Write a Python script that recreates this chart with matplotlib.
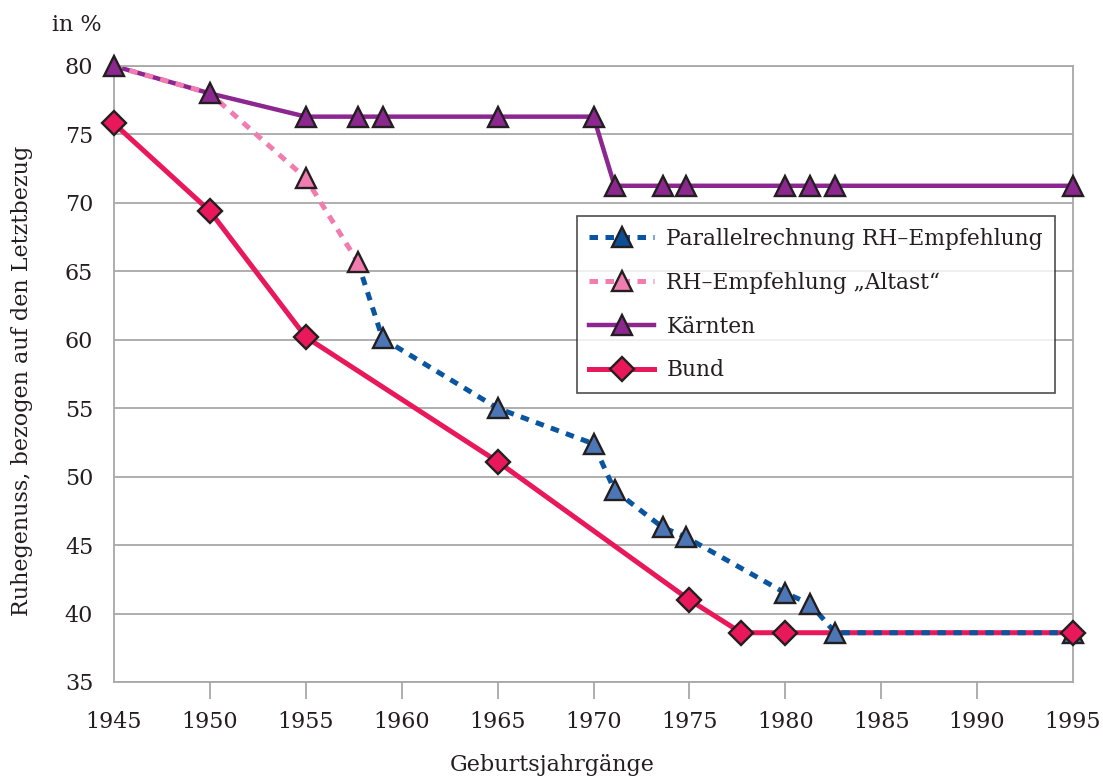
import matplotlib
matplotlib.use("Agg")
import matplotlib.pyplot as plt
from matplotlib.lines import Line2D

plt.rcParams['font.family'] = ['DejaVu Serif']

# Kärnten
kaernten_x = [1945, 1950, 1955, 1957.7, 1959, 1965, 1970, 1971.1, 1973.6, 1974.8, 1980, 1981.3, 1982.6, 1995]
kaernten_y = [80.0, 78.0, 76.3, 76.3, 76.3, 76.3, 76.3, 71.25, 71.25, 71.25, 71.25, 71.25, 71.25, 71.25]

# RH-Empfehlung "Altast"
altast_x = [1945, 1950, 1955, 1957.7]
altast_y = [80.0, 78.0, 71.8, 65.7]

# Parallelrechnung RH-Empfehlung
parallel_x = [1957.7, 1959, 1965, 1970, 1971.1, 1973.6, 1974.8, 1980, 1981.3, 1982.6, 1995]
parallel_y = [65.7, 60.1, 55.0, 52.4, 49.0, 46.3, 45.6, 41.5, 40.7, 38.6, 38.6]

# Bund
bund_x = [1945, 1950, 1955, 1965, 1975, 1977.7, 1980, 1995]
bund_y = [75.8, 69.4, 60.2, 51.1, 41.0, 38.6, 38.6, 38.6]

blue = '#0a55a0'
blue_m = '#4d76b6'
pink = '#f07cb0'
purple = '#8c2790'
red = '#e8185a'
edge = '#231f20'
grey = '#a8a8a8'
fs = 16

fig = plt.figure(figsize=(11.03, 7.78), dpi=100)
ax = fig.add_axes([114/1103, 1-682/778, (1073-114)/1103, (682-66)/778])

lw = 3.6
dash = (0, (1.7, 1.5))
# lines
ax.plot(bund_x, bund_y, color=red, lw=lw, zorder=2)
ax.plot(kaernten_x, kaernten_y, color=purple, lw=3.2, zorder=2.1)
ax.plot(parallel_x, parallel_y, color=blue, lw=lw, ls=dash, zorder=2.2)
ax.plot(altast_x, altast_y, color=pink, lw=lw, ls=dash, zorder=2.3)
# markers
ms = 14.5
ax.plot(parallel_x[1:], parallel_y[1:], ls='none', marker='^', ms=ms, mfc=blue_m, mec=edge, mew=1.7, zorder=3)
ax.plot(altast_x[2:], altast_y[2:], ls='none', marker='^', ms=ms, mfc=pink, mec=edge, mew=1.7, zorder=3.1)
ax.plot(kaernten_x, kaernten_y, ls='none', marker='^', ms=ms, mfc=purple, mec=edge, mew=1.7, zorder=3.2)
ax.plot(bund_x, bund_y, ls='none', marker='D', ms=12.5, mfc=red, mec=edge, mew=1.7, zorder=3.3)

ax.set_xlim(1945, 1995)
ax.set_ylim(35, 80)
ax.set_xticks(range(1945, 1996, 5))
ax.set_yticks(range(35, 81, 5))
ax.yaxis.grid(True, color=grey, lw=1.3)
ax.set_axisbelow(True)
for s in ax.spines.values():
    s.set_color(grey)
    s.set_linewidth(1.3)
ax.tick_params(axis='y', length=0, pad=15, labelsize=fs, labelcolor=edge)
ax.tick_params(axis='x', length=12, width=1.3, color=grey, pad=9, labelsize=fs, labelcolor=edge)
xt = ax.xaxis.get_major_ticks()
xt[0].tick1line.set_visible(False)
xt[-1].tick1line.set_visible(False)
for ln in ax.lines:
    ln.set_clip_on(False)

fig.text(52/1103, 1-25/778, 'in %', fontsize=fs, color=edge, va='center', ha='left')
fig.text(22/1103, 1-381/778, 'Ruhegenuss, bezogen auf den Letztbezug', fontsize=fs,
         color=edge, rotation=90, va='center', ha='center')
fig.text(552/1103, 1-765/778, 'Geburtsjahrgänge', fontsize=fs, color=edge, va='center', ha='center')

handles = [
    Line2D([], [], color=blue, lw=lw, ls=dash, marker='^', ms=ms, mfc='#0d4f96', mec=edge, mew=1.7),
    Line2D([], [], color=pink, lw=lw, ls=dash, marker='^', ms=ms, mfc=pink, mec=edge, mew=1.7),
    Line2D([], [], color=purple, lw=3.2, marker='^', ms=ms, mfc=purple, mec=edge, mew=1.7),
    Line2D([], [], color=red, lw=lw, marker='D', ms=12.5, mfc=red, mec=edge, mew=1.7),
]
labels = ['Parallelrechnung RH–Empfehlung', 'RH–Empfehlung „Altast“', 'Kärnten', 'Bund']
leg = fig.legend(handles, labels, loc='upper left', bbox_to_anchor=(577/1103, 1-216/778),
                 fontsize=15.7, frameon=True, fancybox=False, edgecolor=edge,
                 handlelength=3.0, handletextpad=0.55, labelspacing=1.0, borderpad=0.55,
                 borderaxespad=0)
leg.get_frame().set_linewidth(1.2)
for t in leg.get_texts():
    t.set_color(edge)

fig.savefig('out.png', dpi=100)
